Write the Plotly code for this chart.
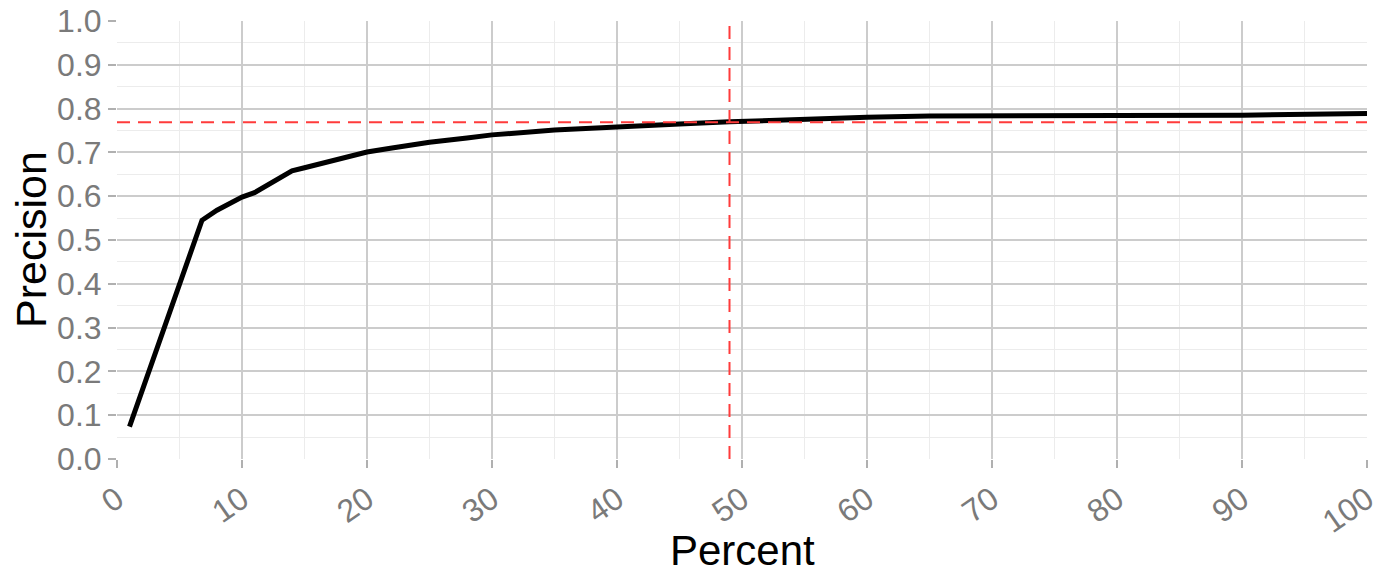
import plotly.graph_objects as go

percent = [1, 2, 3, 4, 5, 6, 6.8, 8, 9, 10, 11, 12, 13, 14, 15, 16, 18, 20, 22, 25, 28, 30,
           35, 40, 45, 49, 55, 60, 65, 70, 80, 90, 95, 100]
precision = [0.074, 0.154, 0.235, 0.316, 0.396, 0.474, 0.545, 0.568, 0.582, 0.598, 0.608, 0.625,
             0.642, 0.658, 0.665, 0.672, 0.686, 0.701, 0.710, 0.723, 0.733, 0.740,
             0.751, 0.759, 0.765, 0.770, 0.776, 0.780, 0.783, 0.784, 0.784, 0.785, 0.786, 0.789]
cut_x = 49
cut_y = 0.769

x_ticks = list(range(0, 101, 10))
y_ticks = [i / 10 for i in range(11)]

fig = go.Figure()
fig.add_trace(go.Scatter(x=percent, y=precision, mode="lines",
                         line=dict(color="black", width=5), showlegend=False))
fig.add_shape(type="line", xref="x", yref="y", x0=0, x1=100, y0=cut_y, y1=cut_y,
              line=dict(color="#ff3b3b", width=2, dash="13px,8px"), layer="above")
fig.add_shape(type="line", xref="x", yref="y", x0=cut_x, x1=cut_x, y0=0, y1=1,
              line=dict(color="#ff3b3b", width=2, dash="13px,8px"), layer="above")

font_fam = "Liberation Sans, Arial, sans-serif"
fig.add_annotation(text="Percent", xref="paper", yref="paper", x=0.5, y=0,
                   xanchor="center", yanchor="middle", yshift=-91, showarrow=False,
                   font=dict(size=42, color="black", family=font_fam))
fig.add_annotation(text="Precision", xref="paper", yref="paper", x=0, y=0.5,
                   xanchor="center", yanchor="middle", xshift=-86, textangle=-90,
                   showarrow=False, font=dict(size=43, color="black", family=font_fam))

fig.update_layout(
    width=1381, height=573,
    margin=dict(l=117, r=14, t=21, b=114),
    plot_bgcolor="white", paper_bgcolor="white",
    font=dict(family=font_fam),
    xaxis=dict(range=[0, 100], tickvals=x_ticks, ticktext=[str(v) for v in x_ticks],
               tickangle=-35, tickfont=dict(size=32, color="#7a7a7a"),
               showgrid=True, gridcolor="#cccccc", gridwidth=2,
               ticks="outside", ticklen=8, tickwidth=2, tickcolor="#b0b0b0",
               zeroline=False, showline=False, automargin=False,
               minor=dict(dtick=5, tick0=0, showgrid=True, gridcolor="#ececec", gridwidth=1)),
    yaxis=dict(range=[0, 1], tickvals=y_ticks, ticktext=[f"{v:.1f}" for v in y_ticks],
               tickfont=dict(size=32, color="#7a7a7a"),
               showgrid=True, gridcolor="#cccccc", gridwidth=2,
               ticks="outside", ticklen=8, tickwidth=2, tickcolor="#b0b0b0",
               zeroline=False, showline=False, automargin=False,
               minor=dict(dtick=0.05, tick0=0, showgrid=True, gridcolor="#ececec", gridwidth=1)),
)

fig.write_html("out.html", config={"displayModeBar": False},
               post_script=["document.body.style.margin='0';"])
